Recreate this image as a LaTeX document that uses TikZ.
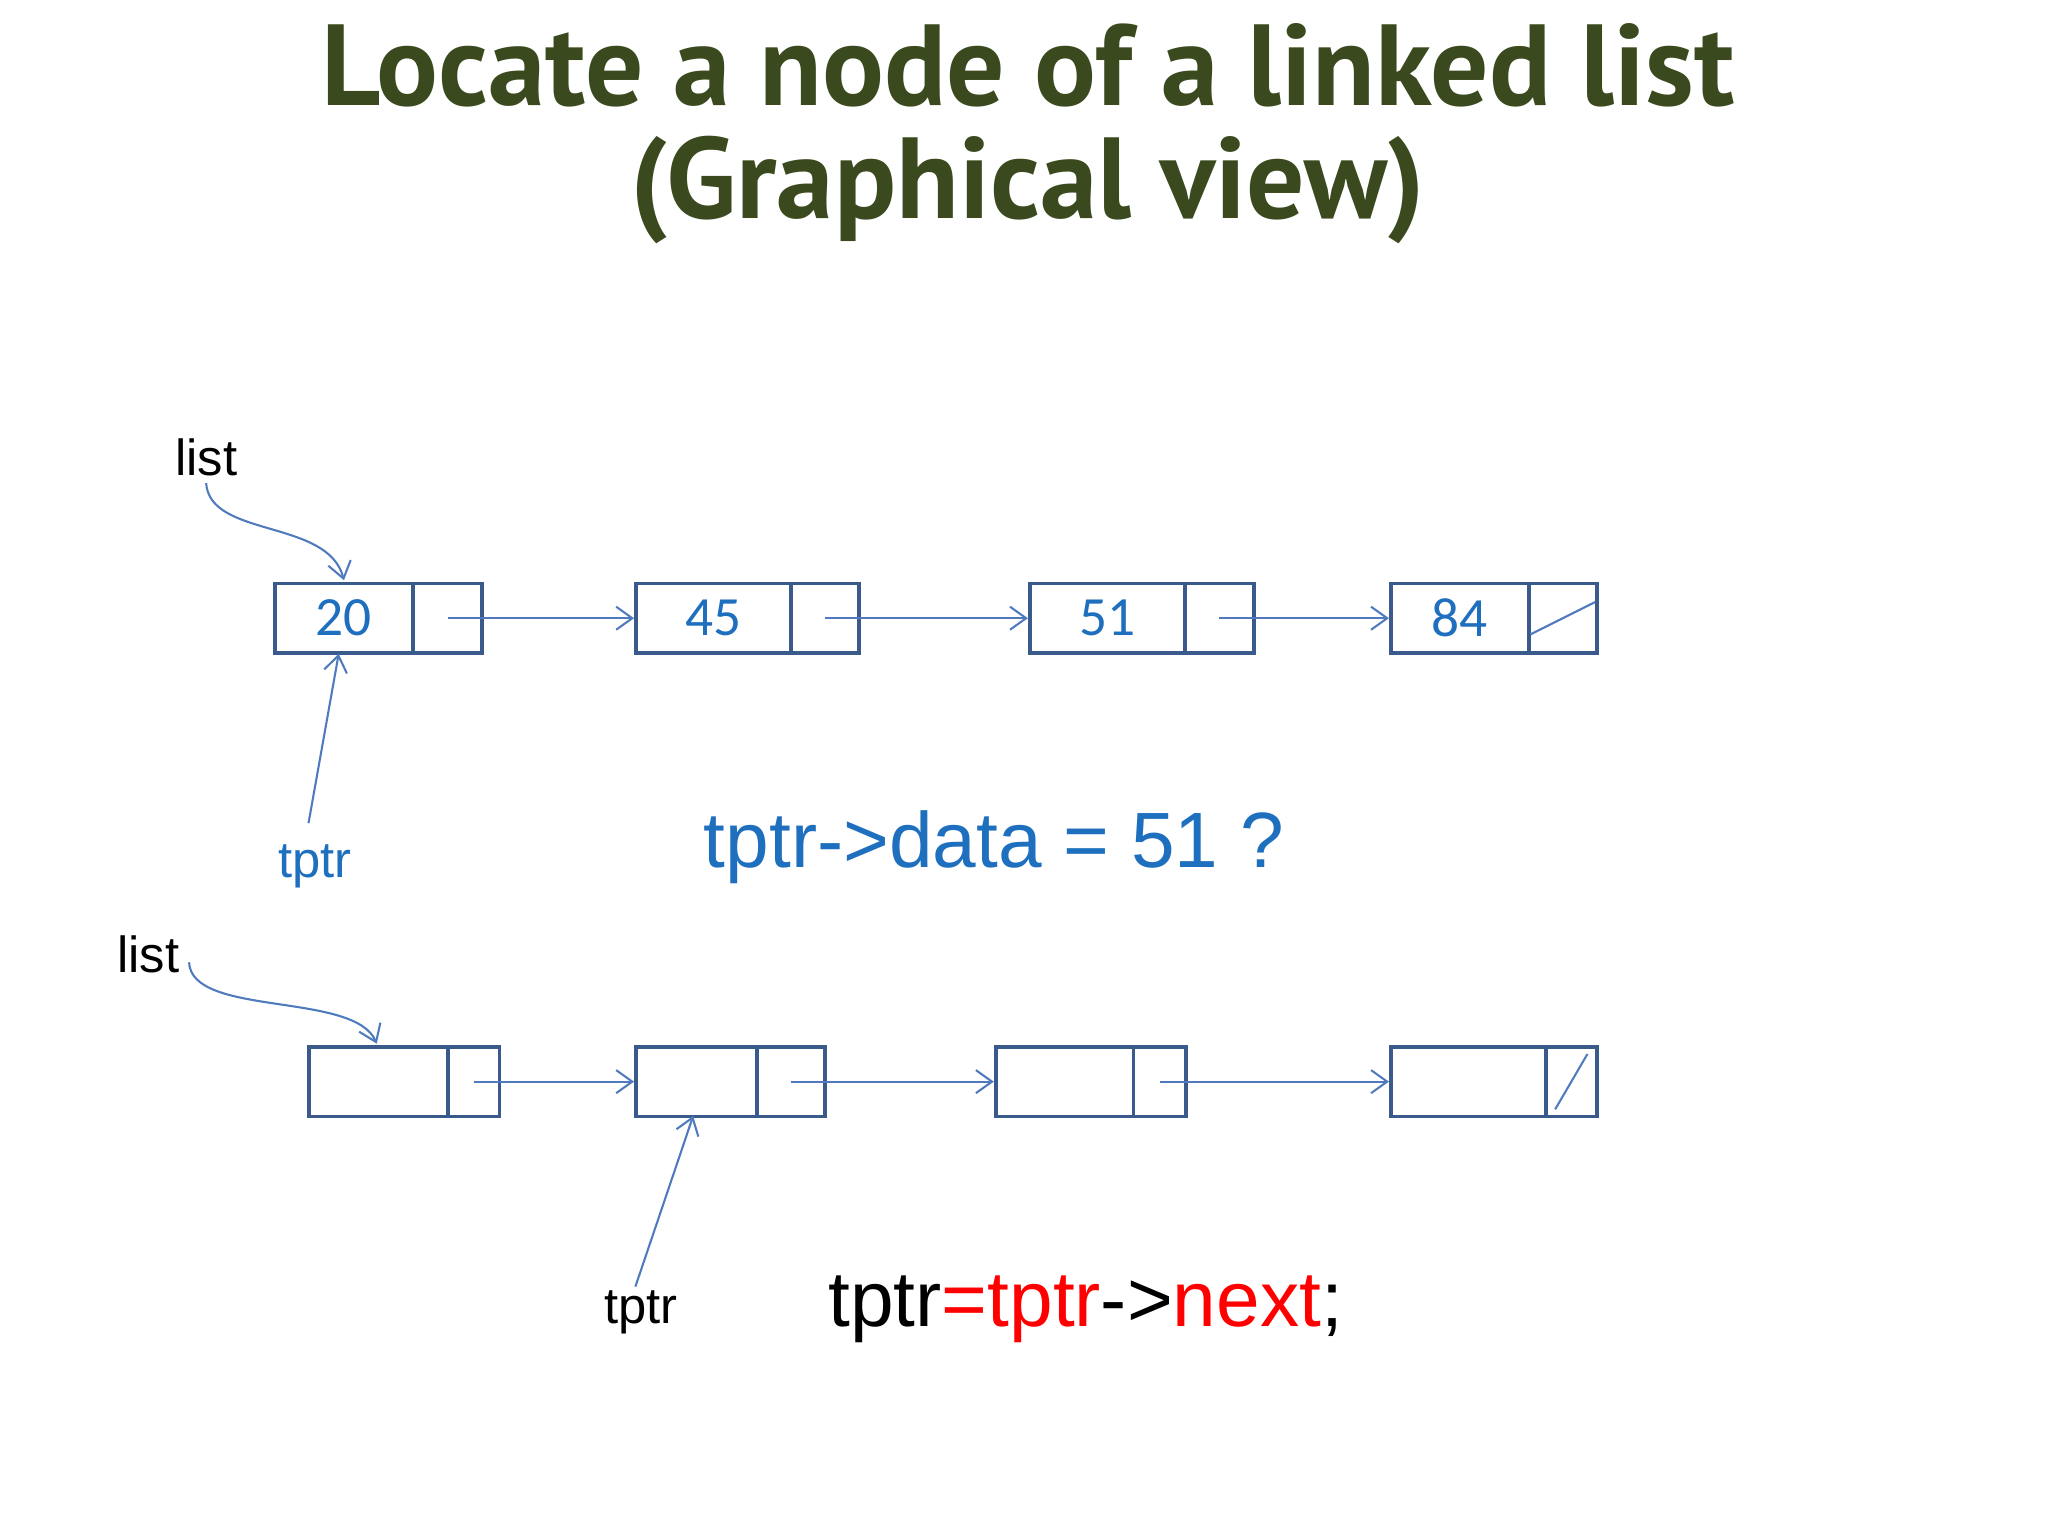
\documentclass[tikz,border=0pt]{standalone}
\usepackage{fontspec}
\setmainfont{Liberation Sans}
\newfontfamily\calib{Carlito}
\newfontfamily\titlef{PT Sans}
\usetikzlibrary{arrows.meta}
\definecolor{boxc}{HTML}{3A5A8C}
\definecolor{arrc}{HTML}{4F7BBE}
\definecolor{txtb}{HTML}{1F6FBF}
\definecolor{titc}{HTML}{3B4A1E}
\begin{document}
\begin{tikzpicture}[x=0.02cm,y=-0.02cm,
 cell/.style={draw=boxc,line width=1.6pt,minimum height=1.06cm,inner sep=0pt,anchor=north west,text=txtb,font=\calib\fontsize{24}{28}\selectfont},
 arr/.style={draw=arrc,line width=0.9pt,-{Straight Barb[length=7pt,width=10pt]}},
 lbl/.style={font=\fontsize{22}{26}\selectfont}]
\useasboundingbox (0,0) rectangle (1560,1170);
\fill[white] (0,0) rectangle (1560,1170);
\node[font=\titlef\bfseries\fontsize{50}{60}\selectfont,text=titc] (t1) at (783,50) {Locate a node of a linked list};
\node[font=\titlef\bfseries\fontsize{50}{60}\selectfont,text=titc] (t2) at (783,145) {(Graphical view)};
% row 1
\newcommand\mkcell[5]{\node[cell,minimum width=#3*0.02cm] (#1) at (#2,#4) {#5};}
\mkcell{a1}{208}{105}{443}{20}\mkcell{a1p}{313}{53}{443}{}
\mkcell{a2}{483}{118}{443}{45}\mkcell{a2p}{601}{52}{443}{}
\mkcell{a3}{783}{118}{443}{51}\mkcell{a3p}{901}{53}{443}{}
\mkcell{a4}{1058}{105}{443}{84}\mkcell{a4p}{1163}{52}{443}{}
\draw[arr] (a1p.center) -- (a2.west);
\draw[arr] (a2p.center) -- (a3.west);
\draw[arr] (a3p.center) -- (a4.west);
\draw[arrc,line width=0.9pt] ([shift={(-14pt,-7pt)}]a4p.center) -- ([shift={(14pt,7pt)}]a4p.center);
% row 2
\mkcell{b1}{234}{106}{796}{}\mkcell{b1p}{340}{39}{796}{}
\mkcell{b2}{483}{92}{796}{}\mkcell{b2p}{575}{52}{796}{}
\mkcell{b3}{757}{105}{796}{}\mkcell{b3p}{862}{40}{796}{}
\mkcell{b4}{1058}{118}{796}{}\mkcell{b4p}{1176}{39}{796}{}
\draw[arr] (b1p.center) -- (b2.west);
\draw[arr] (b2p.center) -- (b3.west);
\draw[arr] (b3p.center) -- (b4.west);
\draw[arrc,line width=0.9pt] ([shift={(-7pt,-12pt)}]b4p.center) -- ([shift={(7pt,12pt)}]b4p.center);
% labels
\node[lbl] (l1) at (157,348) {list};
\node[lbl,text=txtb] (p1) at (240,660) {tptr};
\node[font=\fontsize{34}{40}\selectfont,text=txtb] (q) at (757,645) {tptr->data = 51 ?};
\node[lbl] (l2) at (113,727) {list};
\node[lbl] (p2) at (488,1000) {tptr};
\node[font=\fontsize{34}{40}\selectfont] (c) at (827,997) {tptr\textcolor{red}{=tptr}->\textcolor{red}{next};};
\coordinate (l1s) at (157,368); \coordinate (a1t) at (262,442);
\draw[arr] (l1s) .. controls (160,410) and (250,395) .. (a1t);
\coordinate (p1s) at (235,627); \coordinate (a1b) at (258,498);
\draw[arr] (p1s) -- (a1b);
\coordinate (l2s) at (144,733); \coordinate (b1t) at (287,795);
\draw[arr] (l2s) .. controls (146,775) and (270,755) .. (b1t);
\coordinate (p2s) at (484,980); \coordinate (b2b) at (528,850);
\draw[arr] (p2s) -- (b2b);
\end{tikzpicture}
\end{document}
